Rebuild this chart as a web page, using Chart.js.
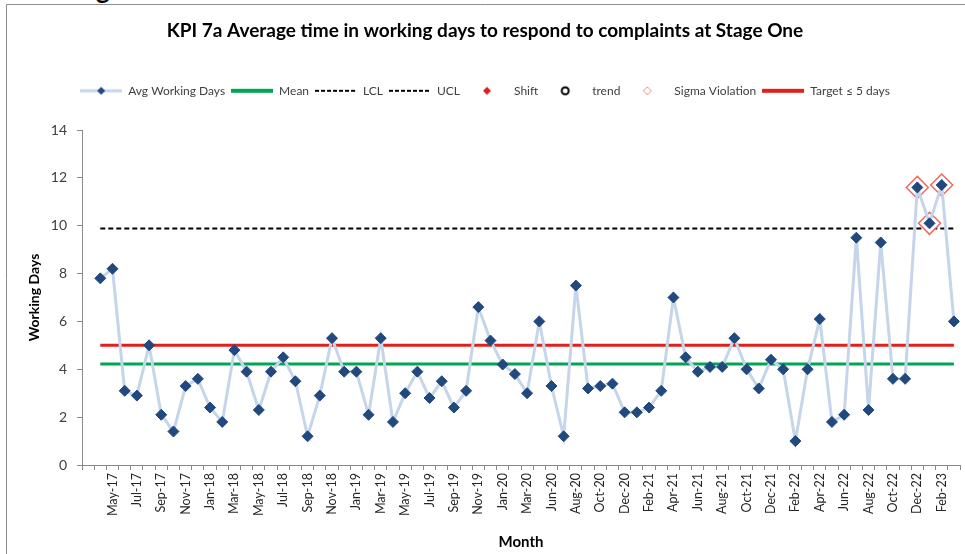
<!DOCTYPE html>
<html>
<head>
<meta charset="utf-8">
<title>KPI 7a</title>
<script src="https://cdn.jsdelivr.net/npm/chart.js@4.4.0/dist/chart.umd.min.js"></script>
<style>
  html, body { margin: 0; padding: 0; background: #fff; }
  #wrap { position: relative; width: 965px; height: 554px; overflow: hidden; }
  #wrap canvas { position: absolute; left: 0; top: 0; }
  #headTail { position: absolute; left: 96px; top: -27px; font: bold 26px Lato, sans-serif; color: #000; }
</style>
</head>
<body>
<div id="wrap">
  <span id="headTail">g</span>
  <canvas id="kpiChart" width="965" height="554"></canvas>
</div>
<script>
'use strict';

// month categories (first slot is a blank lead-in)
const months = ['',
    'Apr-17', 'May-17', 'Jun-17', 'Jul-17', 'Aug-17', 'Sep-17', 'Oct-17', 'Nov-17', 'Dec-17',
    'Jan-18', 'Feb-18', 'Mar-18', 'Apr-18', 'May-18', 'Jun-18', 'Jul-18', 'Aug-18', 'Sep-18', 'Oct-18', 'Nov-18', 'Dec-18',
    'Jan-19', 'Feb-19', 'Mar-19', 'Apr-19', 'May-19', 'Jun-19', 'Jul-19', 'Aug-19', 'Sep-19', 'Oct-19', 'Nov-19', 'Dec-19',
    'Jan-20', 'Feb-20', 'Mar-20', 'May-20', 'Jun-20', 'Jul-20', 'Aug-20', 'Sep-20', 'Oct-20', 'Nov-20', 'Dec-20',
    'Jan-21', 'Feb-21', 'Mar-21', 'Apr-21', 'May-21', 'Jun-21', 'Jul-21', 'Aug-21', 'Sep-21', 'Oct-21', 'Nov-21', 'Dec-21',
    'Jan-22', 'Feb-22', 'Mar-22', 'Apr-22', 'May-22', 'Jun-22', 'Jul-22', 'Aug-22', 'Sep-22', 'Oct-22', 'Nov-22', 'Dec-22',
    'Jan-23', 'Feb-23', 'Mar-23'];

// average working days per month
const avgDays = [null,
    7.8, 8.2, 3.1, 2.9, 5.0, 2.1, 1.4, 3.3, 3.6,
    2.4, 1.8, 4.8, 3.9, 2.3, 3.9, 4.5, 3.5, 1.2, 2.9, 5.3, 3.9,
    3.9, 2.1, 5.3, 1.8, 3.0, 3.9, 2.8, 3.5, 2.4, 3.1, 6.6, 5.2,
    4.2, 3.8, 3.0, 6.0, 3.3, 1.2, 7.5, 3.2, 3.3, 3.4, 2.2,
    2.2, 2.4, 3.1, 7.0, 4.5, 3.9, 4.1, 4.1, 5.3, 4.0, 3.2, 4.4,
    4.0, 1.0, 4.0, 6.1, 1.8, 2.1, 9.5, 2.3, 9.3, 3.6, 3.6, 11.6,
    10.1, 11.7, 6.0];

// points flagged as sigma violations (above UCL)
const sigmaViolation = [null,
    null, null, null, null, null, null, null, null, null,
    null, null, null, null, null, null, null, null, null, null, null, null,
    null, null, null, null, null, null, null, null, null, null, null, null,
    null, null, null, null, null, null, null, null, null, null, null,
    null, null, null, null, null, null, null, null, null, null, null, null,
    null, null, null, null, null, null, null, null, null, null, null, 11.6,
    10.1, 11.7, null];

// no shift / trend points flagged in this period
const shiftPoints = [];
const trendPoints = [];

const meanValue = 4.22;
const uclValue = 9.88;
const lclValue = -1.44;
const targetValue = 5;

const yTicks = [0, 2, 4, 6, 8, 10, 12, 14];

const FONT = 'Lato, "Open Sans", sans-serif';
const AXIS_GREY = '#8a8a8a';

// flat line across every month that has data
const flatLine = (v) => months.map((m, i) => i === 0 ? null : v);

// small canvases used as legend keys
function legendKey(drawFn) {
    const c = document.createElement('canvas');
    c.width = 42;
    c.height = 14;
    const ctx = c.getContext('2d');
    drawFn(ctx, 21, 7);
    return c;
}

function keyLine(ctx, color, width, dash) {
    ctx.save();
    ctx.strokeStyle = color;
    ctx.lineWidth = width;
    ctx.setLineDash(dash || []);
    ctx.beginPath();
    ctx.moveTo(0, 7);
    ctx.lineTo(42, 7);
    ctx.stroke();
    ctx.restore();
}

function keyDiamond(ctx, cx, cy, r, fill, stroke) {
    ctx.beginPath();
    ctx.moveTo(cx, cy - r);
    ctx.lineTo(cx + r, cy);
    ctx.lineTo(cx, cy + r);
    ctx.lineTo(cx - r, cy);
    ctx.closePath();
    if (fill) {
        ctx.fillStyle = fill;
        ctx.fill();
    }
    if (stroke) {
        ctx.strokeStyle = stroke;
        ctx.lineWidth = 1;
        ctx.stroke();
    }
}

const legendEntries = [
    { text: 'Avg Working Days', ds: 0, key: legendKey((ctx, cx, cy) => { keyLine(ctx, '#c5d5ea', 3); keyDiamond(ctx, cx, cy, 4, '#21497e'); }) },
    { text: 'Mean', ds: 2, key: legendKey((ctx) => keyLine(ctx, '#00a651', 4)) },
    { text: 'LCL', ds: 3, key: legendKey((ctx) => keyLine(ctx, '#000', 2, [4, 2])) },
    { text: 'UCL', ds: 4, key: legendKey((ctx) => keyLine(ctx, '#000', 2, [4, 2])) },
    { text: 'Shift', ds: 5, key: legendKey((ctx, cx, cy) => keyDiamond(ctx, cx, cy, 4, '#e0201b')) },
    { text: 'trend', ds: 6, key: legendKey((ctx, cx, cy) => {
        ctx.beginPath();
        ctx.arc(cx, cy, 3.5, 0, Math.PI * 2);
        ctx.strokeStyle = '#000';
        ctx.lineWidth = 2;
        ctx.stroke();
    }) },
    { text: 'Sigma Violation', ds: 1, key: legendKey((ctx, cx, cy) => keyDiamond(ctx, cx, cy, 4, null, '#f08a84')) },
    { text: 'Target \u2264 5 days', ds: 7, key: legendKey((ctx) => keyLine(ctx, '#e0201b', 4)) }
];

// outer frame of the chart object
const framePlugin = {
    id: 'frame',
    beforeDraw(chart) {
        const ctx = chart.ctx;
        ctx.save();
        ctx.strokeStyle = '#8c8c8c';
        ctx.lineWidth = 1;
        ctx.beginPath();
        ctx.moveTo(6.5, chart.height);
        ctx.lineTo(6.5, 4.5);
        ctx.lineTo(chart.width, 4.5);
        ctx.stroke();
        ctx.restore();
    }
};

const canvas = document.getElementById('kpiChart');
const kpiChart = new Chart(canvas, {
    type: 'line',
    data: {
        labels: months,
        datasets: [
            {
                label: 'Avg Working Days',
                data: avgDays,
                borderColor: '#c5d5ea',
                borderWidth: 3,
                pointStyle: 'rectRot',
                pointRadius: 5.5,
                pointBackgroundColor: '#21497e',
                pointBorderColor: '#21497e',
                pointBorderWidth: 1,
                tension: 0,
                spanGaps: true
            },
            {
                label: 'Sigma Violation',
                data: sigmaViolation,
                showLine: false,
                pointStyle: 'rectRot',
                pointRadius: 11,
                pointBackgroundColor: '#ffffff',
                pointBorderColor: '#ec6a62',
                pointBorderWidth: 1.5
            },
            {
                label: 'Mean',
                data: flatLine(meanValue),
                borderColor: '#00a651',
                borderWidth: 3,
                pointRadius: 0
            },
            {
                label: 'LCL',
                data: flatLine(lclValue),
                borderColor: '#000',
                borderWidth: 2,
                borderDash: [5, 3],
                pointRadius: 0
            },
            {
                label: 'UCL',
                data: flatLine(uclValue),
                borderColor: '#000',
                borderWidth: 2,
                borderDash: [5, 3],
                pointRadius: 0
            },
            {
                label: 'Shift',
                data: shiftPoints,
                showLine: false,
                pointStyle: 'rectRot',
                pointRadius: 5,
                pointBackgroundColor: '#e0201b'
            },
            {
                label: 'trend',
                data: trendPoints,
                showLine: false,
                pointStyle: 'circle',
                pointRadius: 5,
                pointBorderColor: '#000'
            },
            {
                label: 'Target \u2264 5 days',
                data: flatLine(targetValue),
                borderColor: '#e0201b',
                borderWidth: 3,
                pointRadius: 0
            }
        ]
    },
    options: {
        responsive: false,
        animation: false,
        devicePixelRatio: 1,
        // big sigma markers would otherwise push the plot in from the right
        layout: { autoPadding: false, padding: { left: 10, right: 5, top: 0, bottom: 0 } },
        plugins: {
            title: {
                display: true,
                text: 'KPI 7a Average time in working days to respond to complaints at Stage One',
                color: '#000',
                font: { family: FONT, size: 19, weight: 'bold' },
                padding: { top: 19, bottom: 37 }
            },
            // empty spacer between the legend and the plot
            subtitle: {
                display: true,
                text: '',
                weight: 500,
                font: { size: 1 },
                padding: { top: 0, bottom: 22 }
            },
            legend: {
                display: true,
                position: 'top',
                labels: {
                    usePointStyle: true,
                    pointStyleWidth: 42,
                    padding: 6,
                    color: '#404040',
                    font: { family: FONT, size: 12 },
                    generateLabels: (chart) => legendEntries.map((e) => ({
                        text: e.text,
                        pointStyle: e.key,
                        datasetIndex: e.ds,
                        hidden: !chart.isDatasetVisible(e.ds),
                        lineWidth: 0,
                        fontColor: '#404040'
                    }))
                }
            },
            tooltip: { enabled: false }
        },
        scales: {
            x: {
                type: 'category',
                offset: true,
                afterFit: (scale) => {
                    scale.height = 89;
                    scale.paddingLeft = 0;
                    scale.paddingRight = 0;
                },
                grid: {
                    offset: true,
                    drawOnChartArea: false,
                    drawTicks: true,
                    tickLength: 5,
                    color: AXIS_GREY
                },
                border: { color: AXIS_GREY, width: 1 },
                ticks: {
                    autoSkip: false,
                    maxRotation: 90,
                    minRotation: 90,
                    padding: 3,
                    color: '#262626',
                    font: { family: FONT, size: 12.5 },
                    callback: (val, index) => index % 2 === 0 ? months[index] : ''
                },
                title: {
                    display: true,
                    text: 'Month',
                    color: '#000',
                    font: { family: FONT, size: 15, weight: 'bold' },
                    padding: { top: 3, bottom: 3 }
                }
            },
            y: {
                min: 0,
                max: 14,
                afterFit: (scale) => { scale.width = 72; },
                afterBuildTicks: (scale) => { scale.ticks = yTicks.map((v) => ({ value: v })); },
                grid: {
                    drawOnChartArea: false,
                    drawTicks: true,
                    tickLength: 5,
                    color: AXIS_GREY
                },
                border: { color: AXIS_GREY, width: 1 },
                ticks: {
                    padding: 10,
                    color: '#404040',
                    font: { family: FONT, size: 14 }
                },
                title: {
                    display: true,
                    text: 'Working Days',
                    color: '#000',
                    font: { family: FONT, size: 14, weight: 'bold' },
                    padding: { top: 16, bottom: 16 }
                }
            }
        }
    },
    plugins: [framePlugin]
});
</script>
</body>
</html>
